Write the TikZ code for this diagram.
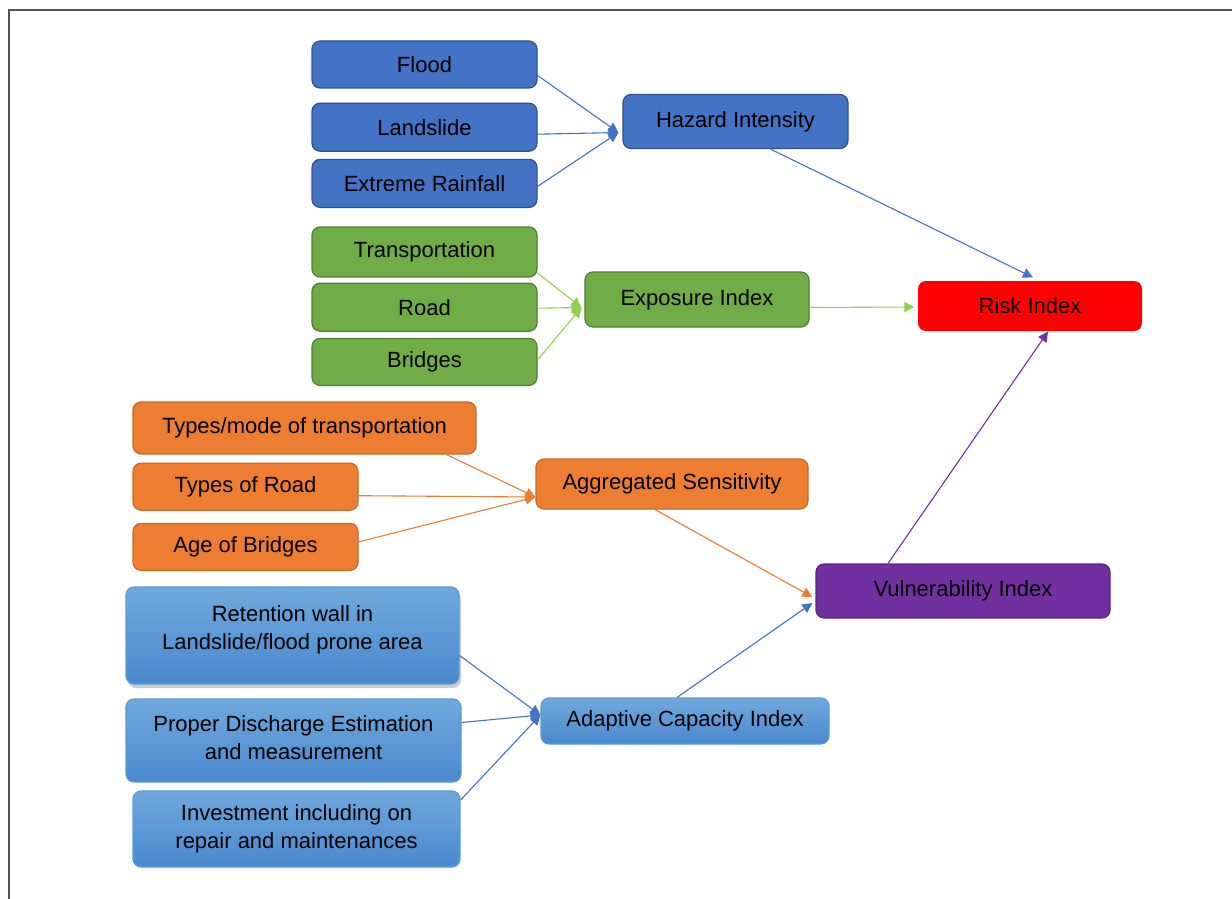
\documentclass[tikz,border=0pt]{standalone}
\usepackage{fontspec}
\setmainfont{Liberation Sans}
\usepackage{tikz}
\usetikzlibrary{arrows.meta, positioning, calc, shadows}
\usepackage{xcolor}
\definecolor{hazblue}{HTML}{4472C4}
\definecolor{hazline}{HTML}{2F528F}
\definecolor{expgreen}{HTML}{70AD47}
\definecolor{expline}{HTML}{507E32}
\definecolor{arrgreen}{HTML}{92D050}
\definecolor{sensorange}{HTML}{ED7D31}
\definecolor{sensline}{HTML}{C9692A}
\definecolor{riskred}{HTML}{FF0000}
\definecolor{vulpurple}{HTML}{7030A0}
\definecolor{adapttop}{HTML}{6FA8DC}
\definecolor{adaptbot}{HTML}{4A89CF}
\definecolor{adaptline}{HTML}{5B9BD5}
\definecolor{framegray}{HTML}{555555}
\tikzstyle{arrow} = [line width=0.55pt,-{Triangle[length=5pt,width=5pt]}]

\begin{document}
\begin{tikzpicture}[x=0.5pt, y=-0.5pt,
    box/.style={rectangle, rounded corners=4pt, line width=0.6pt,
                minimum width=112.5pt, minimum height=24pt, inner sep=2pt,
                align=center, font=\fontsize{11}{14}\selectfont},
    hazbox/.style={box, draw=hazline, fill=hazblue},
    expbox/.style={box, draw=expline, fill=expgreen},
    sensbox/.style={box, draw=sensline, fill=sensorange},
    adaptbox/.style={box, draw=adaptline, top color=adapttop, bottom color=adaptbot},
    node distance=4pt
]
\useasboundingbox (0,0) rectangle (1232,899);

% frame
\draw[framegray, line width=1pt] (1232,10) -- (9,10) -- (9,899);

% Hazard
\node[hazbox, minimum height=23.5pt] (flood) at (424.5,64.5) {Flood};
\node[hazbox, below=7pt of flood] (landslide) {Landslide};
\node[hazbox, below=3.5pt of landslide] (rainfall) {Extreme Rainfall};
\node[hazbox, minimum height=27pt] (hazard) at (735.5,121.5) {Hazard Intensity};

% Exposure
\node[expbox, minimum height=25pt] (transport) at (424.5,252) {Transportation};
\node[expbox, below=2.5pt of transport] (road) {Road};
\node[expbox, minimum height=23.5pt, below=3pt of road] (bridges) {Bridges};
\node[expbox, minimum width=112pt, minimum height=27.5pt] (exposure) at (697,299.5) {Exposure Index};

% Risk
\node[box, fill=riskred, minimum width=112pt, minimum height=25pt] (risk) at (1030,306) {Risk Index};

% Sensitivity
\node[sensbox, minimum width=171.5pt, minimum height=26pt] (typemode) at (304.5,428) {Types/mode of transportation};
\node[sensbox, minimum height=23.5pt, below right=4pt and 0pt of typemode.south west] (typeroad) {Types of Road};
\node[sensbox, minimum height=23.5pt, below=6pt of typeroad] (agebridge) {Age of Bridges};
\node[sensbox, minimum width=136pt, minimum height=25pt] (sensitivity) at (672,484) {Aggregated Sensitivity};

% Vulnerability
\node[box, draw=vulpurple!80!black, fill=vulpurple, minimum width=147pt, minimum height=27pt] (vulner) at (963,591) {Vulnerability Index};

% Adaptive capacity
\node[adaptbox, minimum width=166.5pt, minimum height=48.5pt,
      drop shadow={shadow xshift=1pt, shadow yshift=-2pt, opacity=0.4}] (retention) at (292.5,635.5)
    {Retention wall in\\Landslide/flood prone area\\[-6pt]\mbox{}};
\node[adaptbox, minimum width=167.5pt, minimum height=41.5pt] (discharge) at (293.5,740.5)
    {Proper Discharge Estimation\\and measurement\\[-11pt]\mbox{}};
\node[adaptbox, minimum width=163.5pt, minimum height=38pt] (invest) at (296.5,829)
    {Investment including on\\repair and maintenances};
\node[adaptbox, minimum width=144pt, minimum height=23pt] (adaptive) at (685,721) {Adaptive Capacity Index};

% converging points
\coordinate (hzin) at ($(hazard.west)+(-4,11)$);
\coordinate (exin) at ($(exposure.west)+(-3,8)$);
\coordinate (snin) at ($(sensitivity.west)+(0,13)$);
\coordinate (adin) at ($(adaptive.west)+(0,-6)$);

% arrows
\draw[arrow, hazblue] ($(flood.east)+(0,11)$) -- (hzin);
\draw[arrow, hazblue] ($(landslide.east)+(0,7)$) -- (hzin);
\draw[arrow, hazblue] ($(rainfall.east)+(0,3)$) -- (hzin);
\draw[arrow, hazblue] ($(hazard.south)+(35,0)$) -- ($(risk.north)+(3,-3)$);

\draw[arrow, arrgreen] ($(transport.east)+(0,21)$) -- (exin);
\draw[arrow, arrgreen] ($(road.east)+(0,1)$) -- (exin);
\draw[arrow, arrgreen] ($(bridges.east)+(0,-2)$) -- (exin);
\draw[arrow, arrgreen] ($(exposure.east)+(0,8)$) -- ($(risk.west)+(-3,1)$);

\draw[arrow, sensorange] ($(typemode.south)+(142,0)$) -- (snin);
\draw[arrow, sensorange] ($(typeroad.east)+(0,9)$) -- (snin);
\draw[arrow, sensorange] ($(agebridge.east)+(0,-5)$) -- (snin);
\draw[arrow, sensorange] ($(sensitivity.south)+(-17,0)$) -- ($(vulner.west)+(-3,6)$);

\draw[arrow, hazblue] ($(retention.east)+(0,20)$) -- (adin);
\draw[arrow, hazblue] ($(discharge.east)+(0,-18)$) -- (adin);
\draw[arrow, hazblue] ($(invest.east)+(0,-29)$) -- (adin);
\draw[arrow, hazblue] ($(adaptive.north)+(-8,0)$) -- ($(vulner.west)+(-3,12)$);

\draw[arrow, vulpurple] ($(vulner.north)+(-75,0)$) -- ($(risk.south)+(18,0)$);
\end{tikzpicture}
\end{document}
